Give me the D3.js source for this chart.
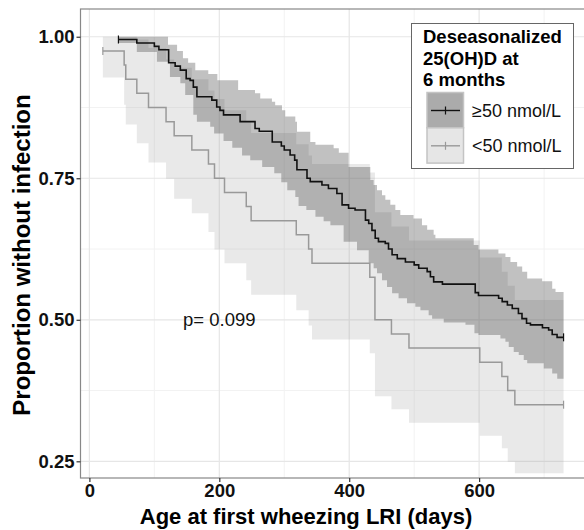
<!DOCTYPE html>
<html>
<head>
<meta charset="utf-8">
<script src="https://cdn.jsdelivr.net/npm/d3@7"></script>
<style>
body { margin: 0; background: #fff; }
svg { display: block; font-family: "Liberation Sans", Arial, sans-serif; }
</style>
</head>
<body>
<svg id="chart" width="584" height="530"></svg>
<script>
// >=50 nmol/L group: Kaplan-Meier steps (day, proportion)
var hiTime = [44.7, 73, 100, 107, 122, 132, 140, 149, 155, 160, 165.5, 188.5, 196, 201, 206.5,
              232, 255, 261.5, 281.5, 295.5, 300, 309, 316, 319.5, 335, 340, 358, 368, 381, 389,
              399, 409, 425, 430, 435, 440, 445, 455.5, 460.5, 466, 474, 486.5, 500, 507, 520,
              525, 530, 543.5, 594, 599, 630, 635.5, 643.5, 651, 660.5, 666, 673, 679, 697.5,
              707, 712.5, 720, 730];
var hiSurv = [0.995, 0.989, 0.983, 0.977, 0.954, 0.948, 0.941, 0.926, 0.923, 0.911, 0.894, 0.888, 0.876, 0.870, 0.862,
              0.850, 0.838, 0.833, 0.814, 0.807, 0.800, 0.791, 0.782, 0.765, 0.750, 0.744, 0.738, 0.732, 0.723, 0.703,
              0.697, 0.694, 0.676, 0.670, 0.658, 0.644, 0.638, 0.635, 0.625, 0.615, 0.608, 0.602, 0.597, 0.591, 0.585,
              0.576, 0.567, 0.563, 0.548, 0.543, 0.538, 0.532, 0.526, 0.520, 0.511, 0.502, 0.494, 0.491, 0.486,
              0.482, 0.474, 0.469, 0.469];
// >=50 confidence band edges
var hiUpTime = [44.7, 121, 135, 144, 152, 163, 183, 197, 229, 255, 263, 281, 286, 296.5, 301.5, 317, 319.6,
                340, 348, 376, 384, 399, 432.5, 437.6, 442.8, 450.5, 455.6, 463.3, 471, 478.7, 499, 512,
                520, 530, 532.7, 591.7, 599, 629.7, 640.5, 648.2, 658.5, 666.3, 674, 697, 712.5, 717.6, 730];
var hiUp = [1.0, 0.986, 0.975, 0.962, 0.954, 0.941, 0.934, 0.923, 0.906, 0.900, 0.891, 0.885, 0.879, 0.870, 0.859, 0.850, 0.832,
            0.814, 0.809, 0.803, 0.795, 0.770, 0.747, 0.738, 0.729, 0.720, 0.712, 0.703, 0.694, 0.685, 0.679, 0.667,
            0.659, 0.650, 0.644, 0.632, 0.624, 0.617, 0.611, 0.602, 0.594, 0.585, 0.573, 0.568, 0.555, 0.549, 0.549];
var hiLowTime = [44.7, 73, 104, 124, 140, 147.5, 160, 165.5, 186, 192, 206.5, 220, 235, 247.6, 266, 284.6, 295.4,
                 304.6, 317, 322, 334, 348, 360.6, 371, 391.4, 412, 430, 437.6, 442.8, 450.5, 458.2, 466, 476,
                 489, 501.8, 509.6, 522.3, 527.6, 545.5, 579, 592.8, 599, 632.8, 640.5, 645.6, 653.3, 661,
                 668.7, 674, 699.5, 712.5, 720.2, 730];
var hiLow = [0.989, 0.973, 0.956, 0.929, 0.918, 0.897, 0.862, 0.850, 0.841, 0.829, 0.816, 0.804, 0.790, 0.782, 0.770, 0.759, 0.743,
             0.729, 0.717, 0.701, 0.694, 0.682, 0.674, 0.667, 0.638, 0.623, 0.600, 0.591, 0.582, 0.570, 0.558, 0.547, 0.538,
             0.529, 0.523, 0.517, 0.508, 0.502, 0.495, 0.491, 0.476, 0.473, 0.467, 0.461, 0.452, 0.443, 0.438,
             0.429, 0.423, 0.414, 0.405, 0.396, 0.396];

// <50 nmol/L group: steps and band edges at the same days
var loTime = [20.7, 53.5, 56, 73, 91, 118, 130.5, 157.7, 183.3, 192.6, 208, 241.5, 249, 318.5, 337.5, 342.7,
              431.7, 439.6, 465, 492, 601, 635, 644, 655, 730];
var loSurv = [0.975, 0.95, 0.925, 0.9, 0.875, 0.85, 0.825, 0.8, 0.775, 0.75, 0.725, 0.7, 0.675, 0.65, 0.625, 0.6,
              0.575, 0.5, 0.475, 0.45, 0.425, 0.4, 0.375, 0.35, 0.35];
var loUp = [1.0, 1.0, 1.0, 0.995, 0.98, 0.96, 0.945, 0.925, 0.905, 0.89, 0.87, 0.85, 0.83, 0.81, 0.79, 0.775,
            0.76, 0.69, 0.665, 0.64, 0.61, 0.585, 0.56, 0.535, 0.535];
var loLow = [0.928, 0.88, 0.845, 0.812, 0.778, 0.749, 0.714, 0.688, 0.655, 0.624, 0.600, 0.570, 0.544, 0.517, 0.49, 0.465,
             0.441, 0.365, 0.342, 0.318, 0.295, 0.273, 0.249, 0.229, 0.229];

var xTicks = [0, 200, 400, 600];
var xMinor = [100, 300, 500, 700];
var yTicks = [0.25, 0.50, 0.75, 1.00];
var yMinor = [0.375, 0.625, 0.875];
var groups = ["\u226550 nmol/L", "<50 nmol/L"];
var legendTitle = ["Deseasonalized", "25(OH)D at", "6 months"];
var pText = "p= 0.099";

var pLeft = 80.5, pTop = 9, pRight = 586.3, pBottom = 478;

var x = d3.scaleLinear().domain([-13.7, 765]).range([pLeft, pRight]);
var y = d3.scaleLinear().domain([0.2205, 1.049]).range([pBottom, pTop]);

var svg = d3.select("#chart");

svg.append("defs").append("clipPath").attr("id", "panel")
   .append("rect").attr("x", pLeft).attr("y", pTop)
   .attr("width", pRight - pLeft).attr("height", pBottom - pTop);

var panel = svg.append("g").attr("clip-path", "url(#panel)");

// grid
panel.selectAll(".xminor").data(xMinor).enter().append("line")
   .attr("x1", function(d) { return x(d); }).attr("x2", function(d) { return x(d); })
   .attr("y1", pTop).attr("y2", pBottom)
   .attr("stroke", "#f2f2f2").attr("stroke-width", 1);
panel.selectAll(".yminor").data(yMinor).enter().append("line")
   .attr("y1", function(d) { return y(d); }).attr("y2", function(d) { return y(d); })
   .attr("x1", pLeft).attr("x2", pRight)
   .attr("stroke", "#f2f2f2").attr("stroke-width", 1);
panel.selectAll(".xmajor").data(xTicks).enter().append("line")
   .attr("x1", function(d) { return x(d); }).attr("x2", function(d) { return x(d); })
   .attr("y1", pTop).attr("y2", pBottom)
   .attr("stroke", "#e6e6e6").attr("stroke-width", 1.2);
panel.selectAll(".ymajor").data(yTicks).enter().append("line")
   .attr("y1", function(d) { return y(d); }).attr("y2", function(d) { return y(d); })
   .attr("x1", pLeft).attr("x2", pRight)
   .attr("stroke", "#e6e6e6").attr("stroke-width", 1.2);

function stepAt(times, vals, t) {
    var v = vals[0];
    for (var i = 0; i < times.length; i++) {
        if (times[i] <= t) v = vals[i];
    }
    return v;
}

function bandRows(upT, up, lowT, low) {
    var ts = Array.from(new Set(upT.concat(lowT))).sort(d3.ascending);
    return ts.map(function(t) {
        return { t: t, hi: stepAt(upT, up, t), lo: stepAt(lowT, low, t) };
    });
}

var area = d3.area().curve(d3.curveStepAfter)
    .x(function(d) { return x(d.t); })
    .y0(function(d) { return y(d.lo); })
    .y1(function(d) { return y(d.hi); });

var hiBand = bandRows(hiUpTime, hiUp, hiLowTime, hiLow);
var loBand = bandRows(loTime, loUp, loTime, loLow);

panel.append("path").datum(loBand).attr("d", area)
   .attr("fill", "#9a9a9a").attr("fill-opacity", 0.22);
panel.append("path").datum(hiBand).attr("d", area)
   .attr("fill", "#333333").attr("fill-opacity", 0.3);

var line = d3.line().curve(d3.curveStepAfter)
    .x(function(d) { return x(d[0]); })
    .y(function(d) { return y(d[1]); });

var loPts = loTime.map(function(t, i) { return [t, loSurv[i]]; });
var hiPts = hiTime.map(function(t, i) { return [t, hiSurv[i]]; });

panel.append("path").datum(loPts).attr("d", line)
   .attr("fill", "none").attr("stroke", "#999999").attr("stroke-width", 1.5);
panel.append("path").datum(hiPts).attr("d", line)
   .attr("fill", "none").attr("stroke", "#111111").attr("stroke-width", 1.6);

// censor marks at start and end
var marks = [[loPts[0], "#999999"], [loPts[loPts.length - 1], "#999999"],
             [hiPts[0], "#111111"], [hiPts[hiPts.length - 1], "#111111"]];
panel.selectAll(".cens").data(marks).enter().append("line")
   .attr("x1", function(d) { return x(d[0][0]); }).attr("x2", function(d) { return x(d[0][0]); })
   .attr("y1", function(d) { return y(d[0][1]) - 4; }).attr("y2", function(d) { return y(d[0][1]) + 4; })
   .attr("stroke", function(d) { return d[1]; }).attr("stroke-width", 1.2);

// p-value
svg.append("text").attr("x", x(200)).attr("y", y(0.5) + 6.5)
   .attr("text-anchor", "middle").attr("font-size", "18.5px").attr("fill", "#111")
   .text(pText);

// panel border
svg.append("rect").attr("x", pLeft).attr("y", pTop)
   .attr("width", pRight - pLeft).attr("height", pBottom - pTop)
   .attr("fill", "none").attr("stroke", "#888").attr("stroke-width", 1.2);

// axes
var xAxis = svg.append("g").attr("transform", "translate(0," + pBottom + ")")
   .call(d3.axisBottom(x).tickValues(xTicks).tickSize(4).tickPadding(2));
var yAxis = svg.append("g").attr("transform", "translate(" + pLeft + ",0)")
   .call(d3.axisLeft(y).tickValues(yTicks).tickFormat(d3.format(".2f")).tickSize(4).tickPadding(2));
[xAxis, yAxis].forEach(function(a) {
    a.select(".domain").remove();
    a.selectAll(".tick line").attr("stroke", "#333").attr("stroke-width", 1.2);
    a.selectAll(".tick text").attr("fill", "#111").attr("font-size", "18.5px")
     .attr("font-weight", "bold").attr("font-family", "Liberation Sans, Arial, sans-serif");
});

svg.append("text").attr("x", 306).attr("y", 524)
   .attr("text-anchor", "middle").attr("font-size", "22px").attr("font-weight", "bold")
   .attr("fill", "#000").text("Age at first wheezing LRI (days)");
svg.append("text").attr("transform", "translate(30," + 255 + ") rotate(-90)")
   .attr("text-anchor", "middle").attr("font-size", "24px").attr("font-weight", "bold")
   .attr("fill", "#000").text("Proportion without infection");

// legend
var lg = svg.append("g");
lg.append("rect").attr("x", 411.5).attr("y", 23.5).attr("width", 162).attr("height", 145)
  .attr("fill", "#fff").attr("stroke", "#666").attr("stroke-width", 1);
lg.selectAll(".lt").data(legendTitle).enter().append("text")
  .attr("x", 423).attr("y", function(d, i) { return 43 + i * 21.5; })
  .attr("font-size", "18.5px").attr("font-weight", "bold").attr("fill", "#000")
  .text(function(d) { return d; });

var keyFill = ["#ababab", "#e6e6e6"];
var keyLine = ["#111111", "#999999"];
var keys = lg.selectAll(".key").data(groups).enter().append("g")
  .attr("transform", function(d, i) { return "translate(427," + (92.5 + i * 35.3) + ")"; });
keys.append("rect").attr("width", 36.5).attr("height", 35.3)
  .attr("fill", function(d, i) { return keyFill[i]; })
  .attr("stroke", "#c4c4c4").attr("stroke-width", 1.5);
keys.append("line").attr("x1", 4).attr("x2", 33).attr("y1", 18).attr("y2", 18)
  .attr("stroke", function(d, i) { return keyLine[i]; }).attr("stroke-width", 1.4);
keys.append("line").attr("x1", 18.5).attr("x2", 18.5).attr("y1", 14).attr("y2", 22)
  .attr("stroke", function(d, i) { return keyLine[i]; }).attr("stroke-width", 1.2);
keys.append("text").attr("x", 45).attr("y", 24.5)
  .attr("font-size", "18px").attr("fill", "#111")
  .text(function(d) { return d; });
</script>
</body>
</html>
